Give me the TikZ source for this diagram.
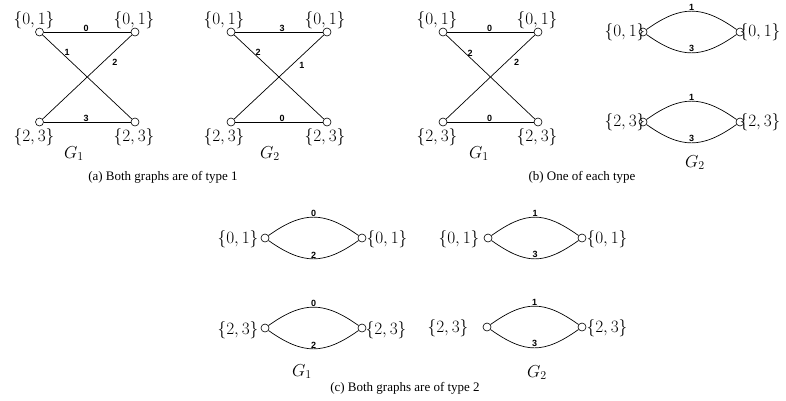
\documentclass[tikz,border=0pt]{standalone}
\usepackage{fontspec}
\newfontfamily\capfont{Liberation Serif}
\newfontfamily\labfont{Liberation Sans}
\usetikzlibrary{calc}
\tikzset{
  vtx/.style={circle, draw, inner sep=0pt, minimum size=8pt, line width=0.6pt},
  vlab/.style={font=\fontsize{17.28}{20}\selectfont, inner sep=0pt},
  glab/.style={font=\fontsize{17.28}{20}\selectfont, inner sep=0pt, anchor=base},
  elab/.style={font=\labfont\bfseries\fontsize{9}{10}\selectfont, inner sep=0pt},
  caplab/.style={font=\capfont\fontsize{13}{15}\selectfont, inner sep=0pt, anchor=base},
  edge/.style={line width=0.7pt},
}
\newcommand{\arcup}[3]{\draw[edge] (#1) .. controls ($(#1)+(38,-27)$) and ($(#2)+(-38,-27)$) .. node[elab, midway, yshift=4pt] {#3} (#2);}
\newcommand{\arcdown}[3]{\draw[edge] (#1) .. controls ($(#1)+(38,27)$) and ($(#2)+(-38,27)$) .. node[elab, midway, yshift=4pt] {#3} (#2);}
\begin{document}
\begin{tikzpicture}[x=1pt, y=-1pt]
\useasboundingbox (0,0) rectangle (786,400);

% ---------- (a) G1 ----------
\node[vtx] (a1tl) at (39.5,32) {};
\node[vtx] (a1tr) at (135,32) {};
\node[vtx] (a1bl) at (39.5,122) {};
\node[vtx] (a1br) at (135,122) {};
\draw[edge] (a1tl) -- node[elab, midway, yshift=4pt, xshift=-1pt] {0} (a1tr);
\draw[edge] (a1bl) -- node[elab, midway, yshift=3.5pt, xshift=-1pt] {3} (a1br);
\draw[edge] (a1tl) -- node[elab, pos=0.274, yshift=5.8pt] {1} (a1br);
\draw[edge] (a1tr) -- node[elab, pos=0.19, yshift=-11.2pt] {2} (a1bl);
\node[vlab] (a1ltl) at (34,20) {$\{0,1\}$};
\node[vlab] (a1ltr) at (134,20) {$\{0,1\}$};
\node[vlab] (a1lbl) at (34,137) {$\{2,3\}$};
\node[vlab] (a1lbr) at (134,137) {$\{2,3\}$};
\node[glab] (a1g) at (74,158) {$G_1$};

% ---------- (a) G2 ----------
\node[vtx] (a2tl) at (231,32) {};
\node[vtx] (a2tr) at (327,32) {};
\node[vtx] (a2bl) at (231,122) {};
\node[vtx] (a2br) at (327,122) {};
\draw[edge] (a2tl) -- node[elab, midway, yshift=4pt, xshift=3pt] {3} (a2tr);
\draw[edge] (a2bl) -- node[elab, midway, yshift=4pt, xshift=3pt] {0} (a2br);
\draw[edge] (a2tl) -- node[elab, pos=0.267, yshift=5.3pt] {2} (a2br);
\draw[edge] (a2tr) -- node[elab, pos=0.245, yshift=-9.6pt] {1} (a2bl);
\node[vlab] (a2ltl) at (224,20) {$\{0,1\}$};
\node[vlab] (a2ltr) at (325,20) {$\{0,1\}$};
\node[vlab] (a2lbl) at (224,137) {$\{2,3\}$};
\node[vlab] (a2lbr) at (325,137) {$\{2,3\}$};
\node[glab] (a2g) at (270,158) {$G_2$};

\node[caplab] (capa) at (163,180) {(a) Both graphs are of type 1};

% ---------- (b) G1 ----------
\node[vtx] (b1tl) at (443,32) {};
\node[vtx] (b1tr) at (538,32) {};
\node[vtx] (b1bl) at (443,122) {};
\node[vtx] (b1br) at (538,122) {};
\draw[edge] (b1tl) -- node[elab, midway, yshift=4pt, xshift=-1pt] {0} (b1tr);
\draw[edge] (b1bl) -- node[elab, midway, yshift=3.5pt, xshift=-1pt] {0} (b1br);
\draw[edge] (b1tl) -- node[elab, pos=0.27, yshift=4.6pt] {2} (b1br);
\draw[edge] (b1tr) -- node[elab, pos=0.205, yshift=-10.1pt] {2} (b1bl);
\node[vlab] (b1ltl) at (437,20) {$\{0,1\}$};
\node[vlab] (b1ltr) at (537,20) {$\{0,1\}$};
\node[vlab] (b1lbl) at (437,137) {$\{2,3\}$};
\node[vlab] (b1lbr) at (537,137) {$\{2,3\}$};
\node[glab] (b1g) at (479,158) {$G_1$};

% ---------- (b) G2 ----------
\node[vlab] (b2ltl) at (625,32) {$\{0,1\}$};
\node[vlab] (b2ltr) at (760,32) {$\{0,1\}$};
\node[vlab] (b2lbl) at (625,122) {$\{2,3\}$};
\node[vlab] (b2lbr) at (760,122) {$\{2,3\}$};
\node[vtx] (b2tl) at (643,32) {};
\node[vtx] (b2tr) at (740,32) {};
\node[vtx] (b2bl) at (643,122) {};
\node[vtx] (b2br) at (740,122) {};
\arcup{b2tl}{b2tr}{1}
\arcdown{b2tl}{b2tr}{3}
\arcup{b2bl}{b2br}{1}
\arcdown{b2bl}{b2br}{3}
\node[glab] (b2g) at (695,167) {$G_2$};

\node[caplab] (capb) at (582,180) {(b) One of each type};

% ---------- (c) G1 ----------
\node[vlab] (c1ltl) at (238,239) {$\{0,1\}$};
\node[vlab] (c1ltr) at (387,239) {$\{0,1\}$};
\node[vlab] (c1lbl) at (238,330) {$\{2,3\}$};
\node[vlab] (c1lbr) at (386,330) {$\{2,3\}$};
\node[vtx] (c1tl) at (265,238) {};
\node[vtx] (c1tr) at (362,238) {};
\node[vtx] (c1bl) at (265,328) {};
\node[vtx] (c1br) at (362,328) {};
\arcup{c1tl}{c1tr}{0}
\arcdown{c1tl}{c1tr}{2}
\arcup{c1bl}{c1br}{0}
\arcdown{c1bl}{c1br}{2}
\node[glab] (c1g) at (302,376) {$G_1$};

% ---------- (c) G2 ----------
\node[vlab] (c2ltl) at (459,239) {$\{0,1\}$};
\node[vlab] (c2ltr) at (607,239) {$\{0,1\}$};
\node[vlab] (c2lbl) at (448,328) {$\{2,3\}$};
\node[vlab] (c2lbr) at (607,328) {$\{2,3\}$};
\node[vtx] (c2tl) at (488,238) {};
\node[vtx] (c2tr) at (582,238) {};
\node[vtx] (c2bl) at (487,327) {};
\node[vtx] (c2br) at (582,327) {};
\arcup{c2tl}{c2tr}{1}
\arcdown{c2tl}{c2tr}{3}
\arcup{c2bl}{c2br}{1}
\arcdown{c2bl}{c2br}{3}
\node[glab] (c2g) at (537,377) {$G_2$};

\node[caplab] (capc) at (405,391) {(c) Both graphs are of type 2};
\end{tikzpicture}
\end{document}
